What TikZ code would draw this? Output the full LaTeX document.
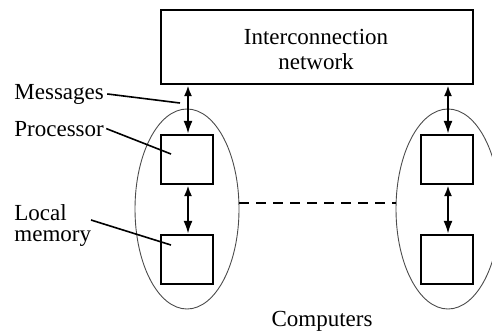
\documentclass[tikz,border=0pt]{standalone}
\usepackage{fontspec}
\setmainfont{Liberation Serif}
\usetikzlibrary{arrows.meta,shapes.geometric}
\begin{document}
\begin{tikzpicture}[x=0.5pt,y=-0.5pt,
  box/.style={draw,line width=1.1pt,inner sep=0pt},
  grp/.style={draw=black!70,line width=0.45pt,ellipse,inner sep=0pt,minimum width=52pt,minimum height=100pt},
  lbl/.style={font=\fontsize{11.5}{12.5}\selectfont,inner sep=0pt},
  link/.style={line width=1.1pt,{Latex[length=5.5pt,width=4pt]}-{Latex[length=6.5pt,width=4.5pt]}},
  ptr/.style={line width=0.8pt}]
\useasboundingbox (0,0) rectangle (492,333);
\node[box,minimum width=156pt,minimum height=37pt] (net) at (317,47) {};
\node[lbl,align=center,font=\fontsize{11.5}{12.5}\selectfont] (nettext) at (316,49) {Interconnection\\network};
\node[grp] (g1) at (187,209) {};
\node[grp] (g2) at (448,209) {};
\node[box,minimum width=26pt,minimum height=24.5pt] (p1) at (187,159.5) {};
\node[box,minimum width=26pt,minimum height=24.5pt] (m1) at (187,259.5) {};
\node[box,minimum width=26pt,minimum height=24.5pt] (p2) at (447,159.5) {};
\node[box,minimum width=26pt,minimum height=24.5pt] (m2) at (447,259.5) {};
\draw[link] (net.south -| p1.north) ++(1,0) coordinate (a1) -- (a1 |- p1.north);
\draw[link] (p1.south) ++(1,0) coordinate (b1) -- (b1 |- m1.north);
\draw[link] (net.south -| p2.north) ++(1,0) coordinate (a2) -- (a2 |- p2.north);
\draw[link] (p2.south) ++(1,0) coordinate (b2) -- (b2 |- m2.north);
\draw[line width=0.8pt,dash pattern=on 5pt off 3.5pt] (g1.east |- 0,203) -- (g2.west |- 0,203);
\node[lbl,anchor=base west] (msg) at (14,99) {Messages};
\node[lbl,anchor=base west] (proc) at (14,136) {Processor};
\node[lbl,anchor=base west,align=left,font=\fontsize{11.5}{10.5}\selectfont] (mem) at (14,241) {Local\\memory};
\node[lbl,anchor=base] (comp) at (322,326) {Computers};
\coordinate (mt) at (180,103);
\coordinate (pt) at (171,154);
\coordinate (lt) at (171,245);
\draw[ptr] (msg.east) ++(3,0) -- (mt);
\draw[ptr] (proc.east) ++(2,0) -- (pt);
\draw[ptr] (91,220) coordinate (ls) -- (lt);
\end{tikzpicture}
\end{document}
